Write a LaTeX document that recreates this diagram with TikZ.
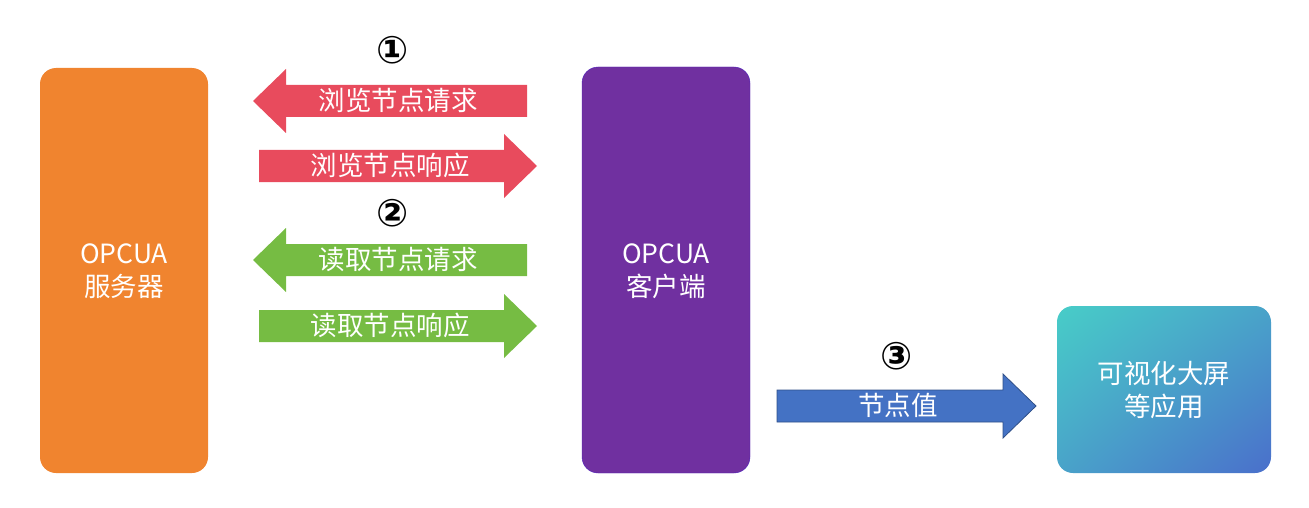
\documentclass[tikz,border=0pt]{standalone}
\usepackage{fontspec}
\usetikzlibrary{shadings}
\setmainfont{Noto Sans CJK SC}
\newfontfamily\symfont{DejaVu Sans}
\definecolor{srvorange}{HTML}{F0842F}
\definecolor{cltpurple}{HTML}{7030A0}
\definecolor{arrred}{HTML}{E84B5D}
\definecolor{arrgreen}{HTML}{76BC43}
\definecolor{arrblue}{HTML}{4472C4}
\definecolor{appteal}{HTML}{48CDC8}
\definecolor{appblue}{HTML}{4A6FCB}
\newcommand*\headlen{33}
\tikzset{
    label/.style={font=\fontsize{26.5}{33}\selectfont, text=white},
    step num/.style={font=\symfont\fontsize{38}{38}\selectfont\bfseries}
}
% \bigarrow{tail x}{tip x}{centre y}{colour}
\newcommand*\bigarrow[4]{%
    \pgfmathsetmacro\hx{#1<#2 ? #2-\headlen : #2+\headlen}
    \fill[#4] (#1,#3-16) -- (\hx,#3-16) -- (\hx,#3-32) -- (#2,#3)
        -- (\hx,#3+32) -- (\hx,#3+16) -- (#1,#3+16) -- cycle;
}
\begin{document}
\begin{tikzpicture}[x=1pt,y=-1pt]
    \useasboundingbox (0,0) rectangle (1309,508);

    % The three boxes.
    \fill[srvorange, rounded corners=16pt] (40,68) rectangle (208,473);
    \node[label, align=center] (server) at (124,271) {OPCUA\\服务器};
    \filldraw[fill=cltpurple, draw=cltpurple!70!blue, rounded corners=16pt] (582,67) rectangle (750,473);
    \node[label, align=center] (client) at (666,271) {OPCUA\\客户端};
    \shade[rounded corners=16pt, upper left=appteal, lower right=appblue,
        upper right=appteal!55!appblue, lower left=appteal!55!appblue] (1057,306) rectangle (1271,473);
    \node[label, align=center] (app) at (1164,390) {可视化大屏\\等应用};

    % Browse.
    \node[step num] (n1) at (393,50) {①};
    \bigarrow{527}{253}{101}{arrred}
    \node[label] (browsereq) at (398,100) {浏览节点请求};
    \bigarrow{259}{537}{166}{arrred}
    \node[label] (browseresp) at (390,165) {浏览节点响应};

    % Read.
    \node[step num] (n2) at (393,213) {②};
    \bigarrow{527}{253}{260}{arrgreen}
    \node[label] (readreq) at (398,259) {读取节点请求};
    \bigarrow{259}{537}{326}{arrgreen}
    \node[label] (readresp) at (390,325) {读取节点响应};

    % Value.
    \node[step num] (n3) at (897,356) {③};
    \bigarrow{777}{1036}{406}{arrblue}
    \draw[arrblue!70!black, line width=0.8pt] (777,390) -- (1003,390) -- (1003,374) -- (1036,406)
        -- (1003,438) -- (1003,422) -- (777,422) -- cycle;
    \node[label] (value) at (898,405) {节点值};
\end{tikzpicture}
\end{document}
